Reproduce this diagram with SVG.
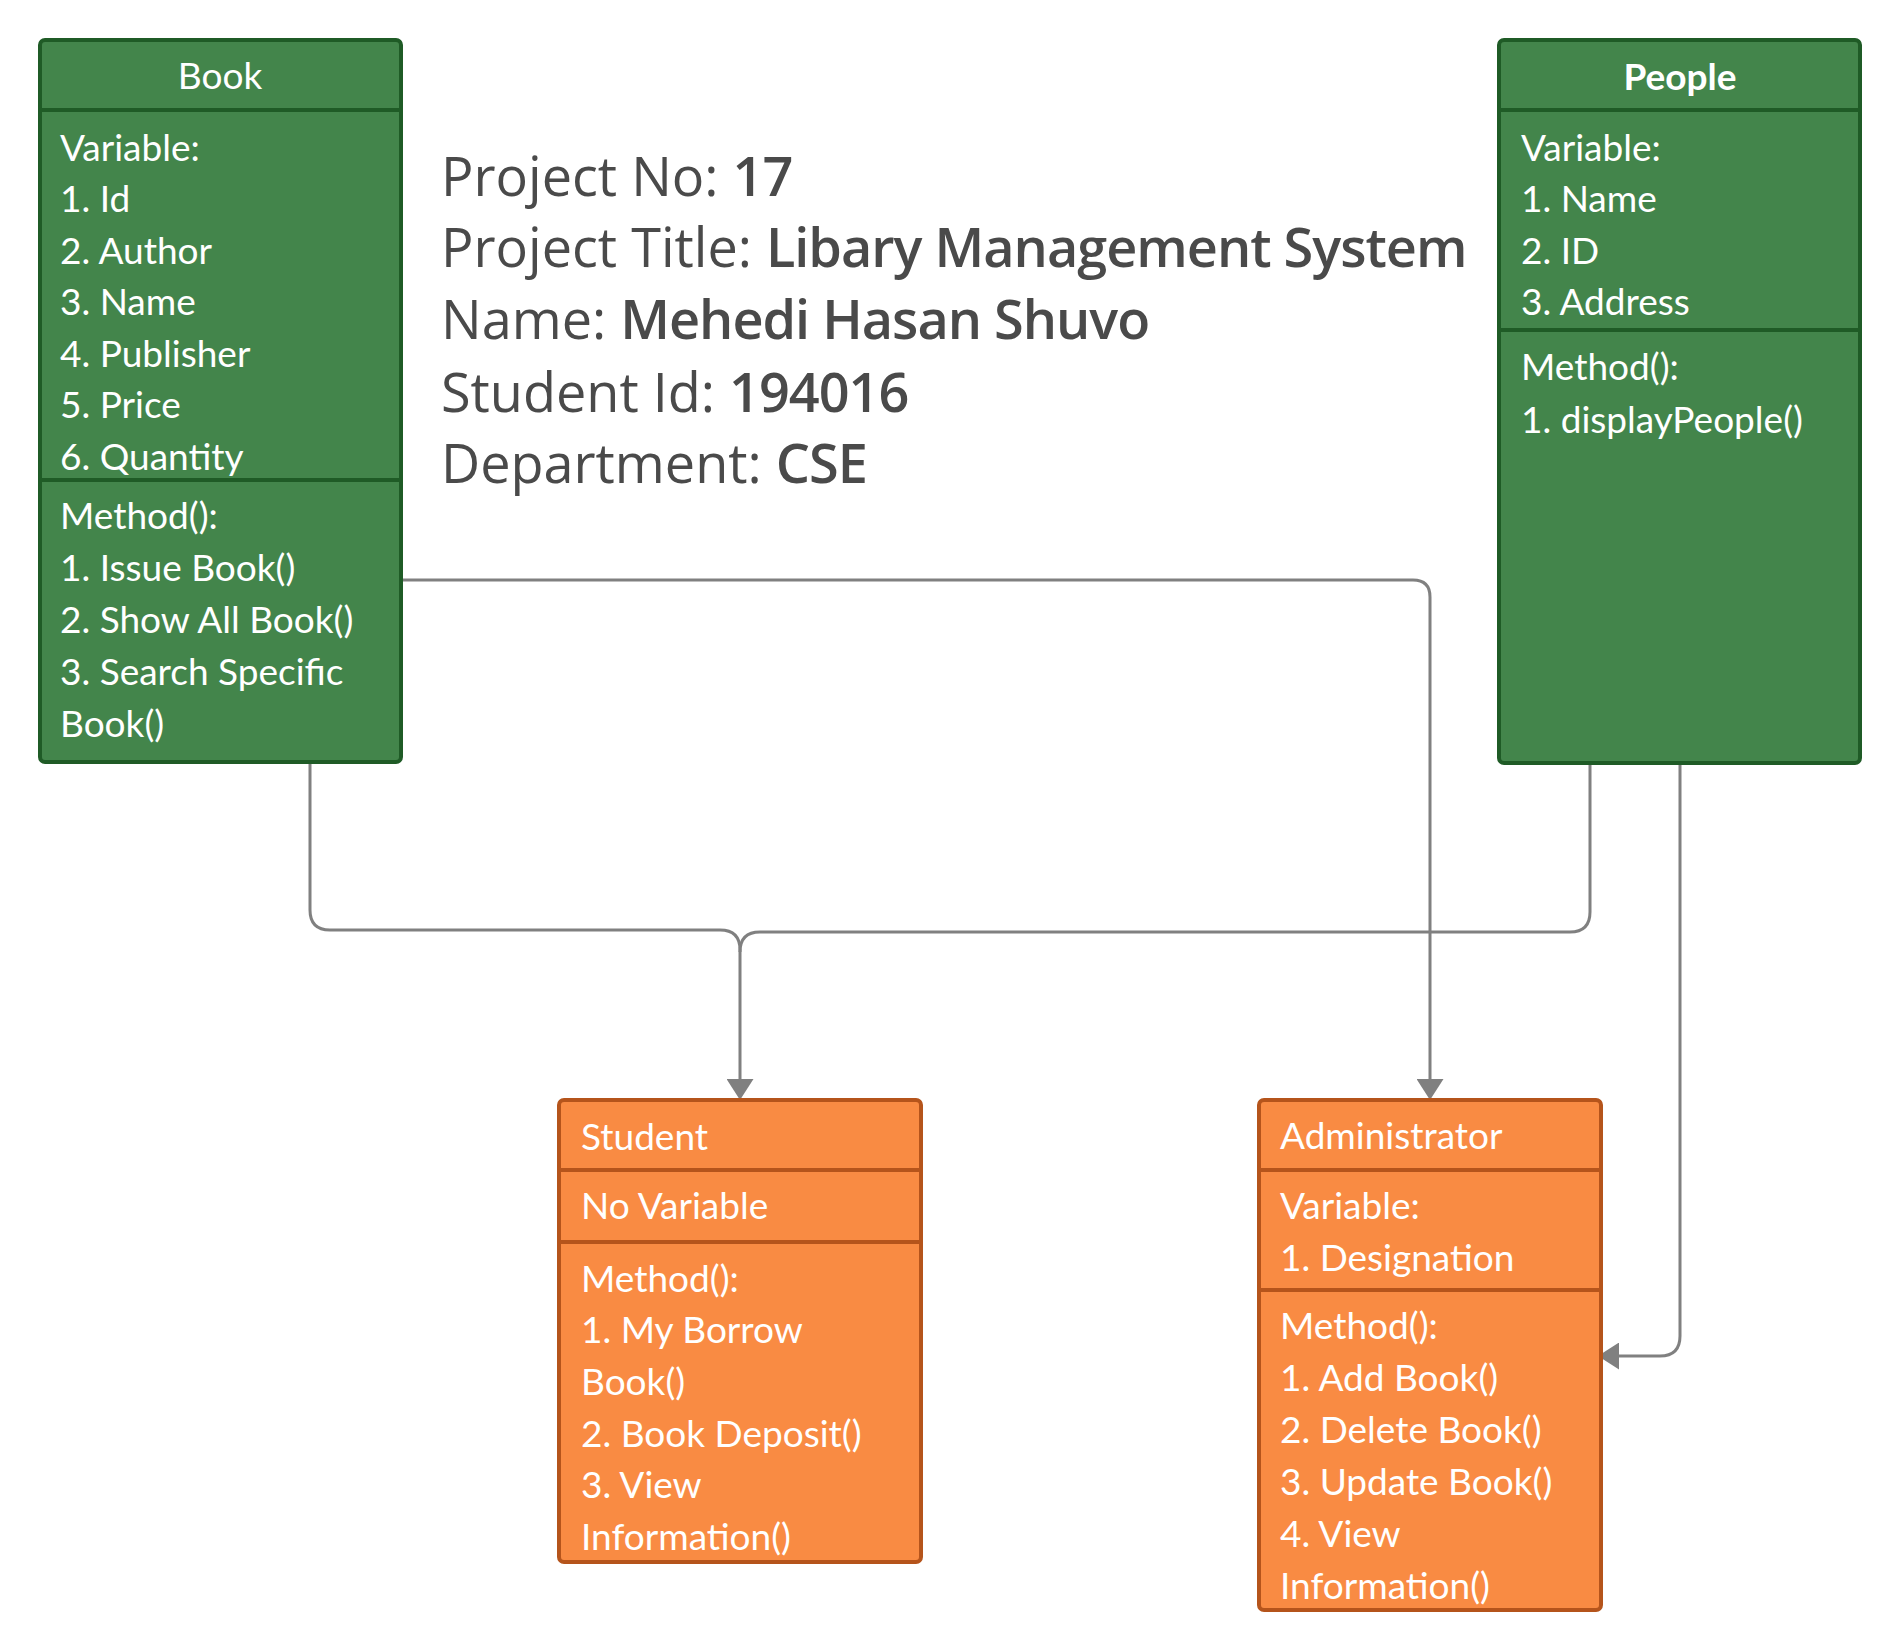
<svg xmlns="http://www.w3.org/2000/svg" width="1900" height="1651" viewBox="0 0 1900 1651">
<style>
.green{fill:#43854b;stroke:#1f5b26;stroke-width:4}
.gdiv{stroke:#1f5b26;stroke-width:4}
.orange{fill:#f98b43;stroke:#b5541b;stroke-width:4}
.odiv{stroke:#b5541b;stroke-width:4}
.t{font-family:Lato,"Liberation Sans",sans-serif;font-size:37px;fill:#ffffff}
.b{font-weight:bold}
.hdr{font-family:"Open Sans","Noto Sans","Liberation Sans",sans-serif;font-size:54px;fill:#4a4a4a}
.sb{font-weight:600;letter-spacing:-1px}
.conn{fill:none;stroke:#808080;stroke-width:3}
</style>
<defs>
<marker id="arr" viewBox="0 0 21 27" refX="18" refY="13.5" markerWidth="21" markerHeight="27" markerUnits="userSpaceOnUse" orient="auto">
<path d="M0,0 L21,13.5 L0,27 z" fill="#808080"/>
</marker>
<clipPath id="bookVar"><rect x="40" y="110" width="361" height="369"/></clipPath>
</defs>
<rect width="1900" height="1651" fill="#ffffff"/>

<g id="connectors">
<path class="conn" d="M401,580 H1413 Q1430,580 1430,597 V1097" marker-end="url(#arr)"/>
<path class="conn" d="M310,762 V910 Q310,930 330,930 H720 Q740,930 740,950 V1097" marker-end="url(#arr)"/>
<path class="conn" d="M1590,763 V912 Q1590,932 1570,932 H760 Q740,932 740,952"/>
<path class="conn" d="M1680,763 V1336 Q1680,1356 1660,1356 H1601" marker-end="url(#arr)"/>
</g>

<g id="book">
<rect class="green" x="40" y="40" width="361" height="722" rx="5"/>
<line class="gdiv" x1="40" y1="110" x2="401" y2="110"/>
<line class="gdiv" x1="40" y1="480" x2="401" y2="480"/>
<text class="t" x="220" y="89" text-anchor="middle">Book</text>
<g clip-path="url(#bookVar)">
<text class="t" x="60" y="161">Variable:</text>
<text class="t" x="60" y="212">1. Id</text>
<text class="t" x="60" y="264">2. Author</text>
<text class="t" x="60" y="315">3. Name</text>
<text class="t" x="60" y="367">4. Publisher</text>
<text class="t" x="60" y="418">5. Price</text>
<text class="t" x="60" y="470">6. Quantity</text>
</g>
<text class="t" x="60" y="529">Method():</text>
<text class="t" x="60" y="581">1. Issue Book()</text>
<text class="t" x="60" y="633">2. Show All Book()</text>
<text class="t" x="60" y="685">3. Search Specific</text>
<text class="t" x="60" y="737">Book()</text>
</g>

<g id="people">
<rect class="green" x="1499" y="40" width="361" height="723" rx="5"/>
<line class="gdiv" x1="1499" y1="110" x2="1860" y2="110"/>
<line class="gdiv" x1="1499" y1="330" x2="1860" y2="330"/>
<text class="t b" x="1680" y="90" text-anchor="middle">People</text>
<text class="t" x="1521" y="161">Variable:</text>
<text class="t" x="1521" y="212">1. Name</text>
<text class="t" x="1521" y="264">2. ID</text>
<text class="t" x="1521" y="315">3. Address</text>
<text class="t" x="1521" y="380">Method():</text>
<text class="t" x="1521" y="433">1. displayPeople()</text>
</g>

<g id="info">
<text class="hdr" x="441" y="196">Project No: <tspan class="sb">17</tspan></text>
<text class="hdr" x="441" y="267">Project Title: <tspan class="sb">Libary Management System</tspan></text>
<text class="hdr" x="441" y="339">Name: <tspan class="sb">Mehedi Hasan Shuvo</tspan></text>
<text class="hdr" x="441" y="412">Student Id: <tspan class="sb">194016</tspan></text>
<text class="hdr" x="441" y="483">Department: <tspan class="sb">CSE</tspan></text>
</g>

<g id="student">
<rect class="orange" x="559" y="1100" width="362" height="462" rx="5"/>
<line class="odiv" x1="559" y1="1170" x2="921" y2="1170"/>
<line class="odiv" x1="559" y1="1242" x2="921" y2="1242"/>
<text class="t" x="581" y="1150">Student</text>
<text class="t" x="581" y="1219">No Variable</text>
<text class="t" x="581" y="1292">Method():</text>
<text class="t" x="581" y="1343">1. My Borrow</text>
<text class="t" x="581" y="1395">Book()</text>
<text class="t" x="581" y="1447">2. Book Deposit()</text>
<text class="t" x="581" y="1498">3. View</text>
<text class="t" x="581" y="1550">Information()</text>
</g>

<g id="administrator">
<rect class="orange" x="1259" y="1100" width="342" height="510" rx="5"/>
<line class="odiv" x1="1259" y1="1170" x2="1601" y2="1170"/>
<line class="odiv" x1="1259" y1="1290" x2="1601" y2="1290"/>
<text class="t" x="1280" y="1149">Administrator</text>
<text class="t" x="1280" y="1219">Variable:</text>
<text class="t" x="1280" y="1271">1. Designation</text>
<text class="t" x="1280" y="1339">Method():</text>
<text class="t" x="1280" y="1391">1. Add Book()</text>
<text class="t" x="1280" y="1443">2. Delete Book()</text>
<text class="t" x="1280" y="1495">3. Update Book()</text>
<text class="t" x="1280" y="1547">4. View</text>
<text class="t" x="1280" y="1599">Information()</text>
</g>
</svg>
